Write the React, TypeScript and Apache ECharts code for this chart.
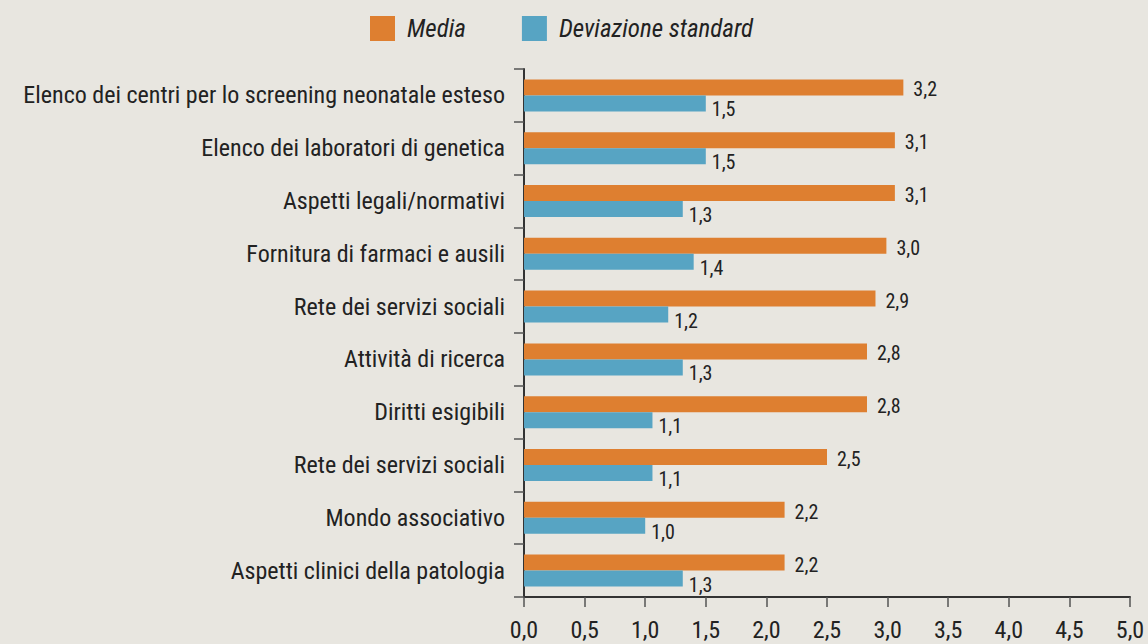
import React, { useEffect, useRef } from "react";
import * as echarts from "echarts";

const categories = [
  "Elenco dei centri per lo screening neonatale esteso",
  "Elenco dei laboratori di genetica",
  "Aspetti legali/normativi",
  "Fornitura di farmaci e ausili",
  "Rete dei servizi sociali",
  "Attività di ricerca",
  "Diritti esigibili",
  "Rete dei servizi sociali",
  "Mondo associativo",
  "Aspetti clinici della patologia",
];

// bar lengths as drawn
const mediaValues = [3.13, 3.06, 3.06, 2.99, 2.9, 2.83, 2.83, 2.5, 2.15, 2.15];
const devValues = [1.5, 1.5, 1.31, 1.4, 1.19, 1.31, 1.06, 1.06, 1.0, 1.31];
// printed labels
const mediaLabels = ["3,2", "3,1", "3,1", "3,0", "2,9", "2,8", "2,8", "2,5", "2,2", "2,2"];
const devLabels = ["1,5", "1,5", "1,3", "1,4", "1,2", "1,3", "1,1", "1,1", "1,0", "1,3"];
const xTicks = [0, 0.5, 1, 1.5, 2, 2.5, 3, 3.5, 4, 4.5, 5];

const FONT = "'Roboto Condensed', 'Liberation Sans', sans-serif";
const TEXT = "#222222";
const ORANGE = "#DE7F30";
const BLUE = "#57A4C3";
const BG = "#E8E6E0";
const W = 400;

export default function App() {
  const ref = useRef<HTMLDivElement>(null);
  useEffect(() => {
    document.body.style.margin = "0";
    const chart = echarts.init(ref.current!, null, { renderer: "svg" });
    chart.setOption({
      animation: false,
      backgroundColor: BG,
      textStyle: { fontFamily: FONT, color: TEXT },
      legend: {
        top: 16,
        left: 370,
        padding: 0,
        itemWidth: 25,
        itemHeight: 25,
        itemGap: 56,
        icon: "rect",
        textStyle: { fontFamily: FONT, fontSize: 25, fontWeight: W, fontStyle: "italic", color: TEXT, padding: [0, 0, 0, 7] },
        data: ["Media", "Deviazione standard"],
      },
      grid: { left: 524, right: 18, top: 69, bottom: 47, containLabel: false },
      xAxis: {
        type: "value",
        min: 0,
        max: 5,
        interval: 0.5,
        splitLine: { show: false },
        axisLine: { show: true, lineStyle: { color: "#333333", width: 2 } },
        axisTick: { show: true, length: 10, lineStyle: { color: "#555555", width: 1.5 } },
        axisLabel: {
          fontFamily: FONT,
          fontSize: 24,
          fontWeight: W,
          color: TEXT,
          margin: 21,
          formatter: (v: number) => (xTicks.includes(v) ? v.toFixed(1).replace(".", ",") : ""),
        },
      },
      yAxis: {
        type: "category",
        inverse: true,
        data: categories,
        axisLine: { show: true, lineStyle: { color: "#333333", width: 2 } },
        axisTick: { show: true, length: 10, lineStyle: { color: "#555555", width: 1.5 } },
        axisLabel: { fontFamily: FONT, fontSize: 24, fontWeight: W, color: TEXT, margin: 19 },
      },
      series: [
        {
          name: "Media",
          type: "bar",
          data: mediaValues,
          barWidth: 16,
          barGap: "0%",
          itemStyle: { color: ORANGE },
          label: {
            show: true,
            position: "right",
            distance: 10,
            offset: [0, 2],
            fontFamily: FONT,
            fontSize: 20,
            fontWeight: W,
            color: TEXT,
            formatter: (p: any) => mediaLabels[p.dataIndex],
          },
        },
        {
          name: "Deviazione standard",
          type: "bar",
          data: devValues,
          barWidth: 16,
          barGap: "0%",
          itemStyle: { color: BLUE },
          label: {
            show: true,
            position: "right",
            distance: 6,
            offset: [0, 6],
            fontFamily: FONT,
            fontSize: 20,
            fontWeight: W,
            color: TEXT,
            formatter: (p: any) => devLabels[p.dataIndex],
          },
        },
      ],
    });
    return () => chart.dispose();
  }, []);
  return <div ref={ref} style={{ width: 1148, height: 644 }} />;
}
